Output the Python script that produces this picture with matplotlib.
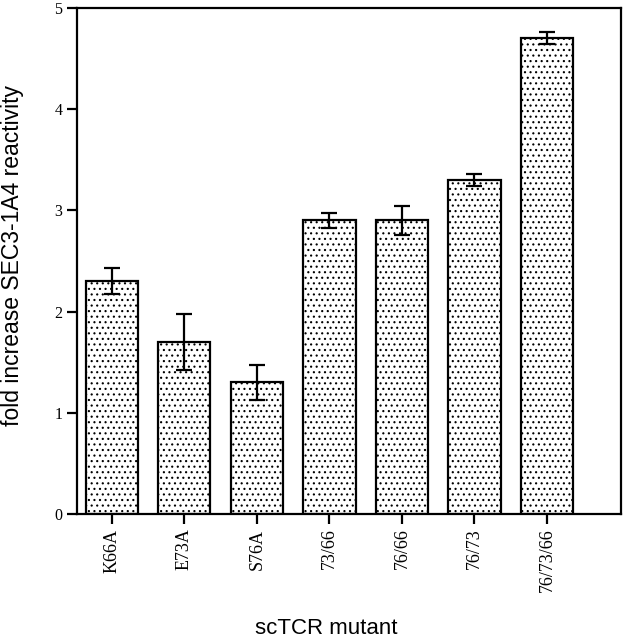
import matplotlib
matplotlib.use("Agg")
import matplotlib.pyplot as plt
import numpy as np

plt.rcParams['hatch.linewidth'] = 0.8

categories = ["K66A", "E73A", "S76A", "73/66", "76/66", "76/73", "76/73/66"]
values = [2.3, 1.7, 1.3, 2.9, 2.9, 3.3, 4.7]
errors = [0.13, 0.28, 0.17, 0.07, 0.14, 0.06, 0.06]
yticks = [0, 1, 2, 3, 4, 5]

fig = plt.figure(figsize=(6.26, 6.4), dpi=100)
ax = fig.add_axes([0.123, 0.197, 0.869, 0.7905])

x = np.arange(len(categories))
ax.bar(x, values, width=0.72, color="white", edgecolor="black", linewidth=1.6,
       hatch="...", zorder=2)
ax.errorbar(x, values, yerr=errors, fmt="none", ecolor="black", elinewidth=1.6,
            capsize=6, capthick=1.6, zorder=3)

ax.set_xlim(-0.48, len(categories) - 1 + 1.02)
ax.set_ylim(0, 5)
ax.set_yticks(yticks)
ax.set_yticklabels([str(t) for t in yticks], fontfamily="Liberation Serif", fontsize=11.5)
ax.set_xticks(x)
ax.set_xticklabels(categories, rotation=90, fontfamily="Liberation Serif", fontsize=13)
ax.tick_params(axis="both", direction="out", length=7, width=1.6)
for s in ax.spines.values():
    s.set_linewidth(1.6)

fig.text(13 / 626, 1 - 255 / 640, "fold increase SEC3-1A4 reactivity",
         rotation=90, ha="center", va="center", fontfamily="Liberation Sans", fontsize=16.5)
fig.text(326 / 626, 1 - 628 / 640, "scTCR mutant",
         ha="center", va="center", fontfamily="Liberation Sans", fontsize=16)

fig.savefig("out.png", dpi=100)
